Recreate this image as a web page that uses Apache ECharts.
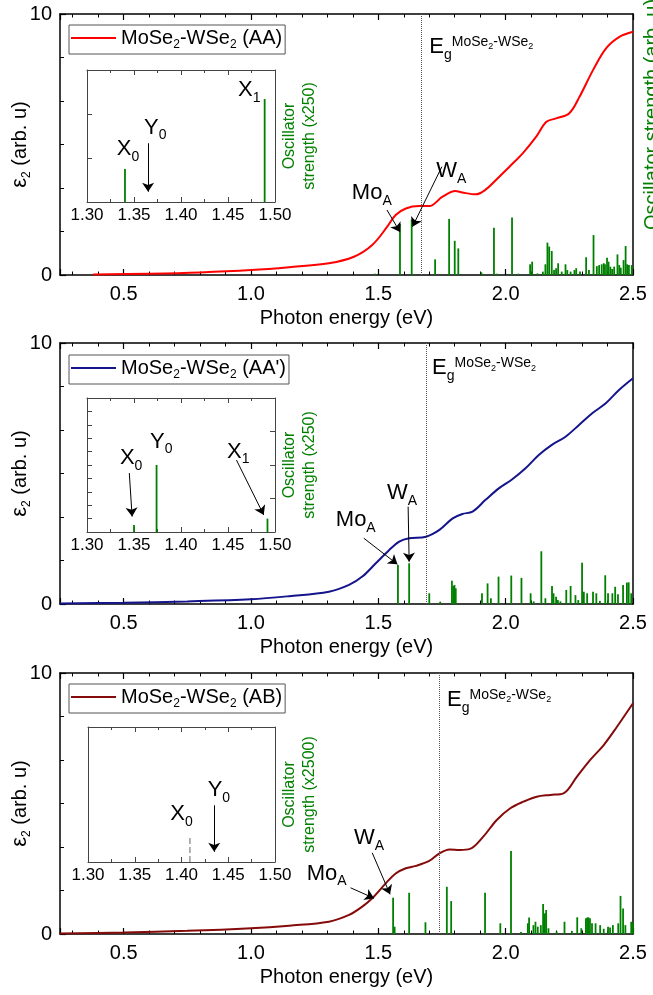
<!DOCTYPE html>
<html>
<head>
<meta charset="utf-8">
<script src="https://cdn.jsdelivr.net/npm/echarts@6/dist/echarts.min.js"></script>
<style>
html, body { margin: 0; padding: 0; background: #fff; }
#chart { width: 653px; height: 995px; }
</style>
</head>
<body>
<div id="chart"></div>
<script>
var FONT = 'Liberation Sans, Arial, Helvetica, sans-serif';
var GREEN = '#008000';

// ---- panel 1 : MoSe2-WSe2 (AA)
var energyAA = [0.38, 0.6, 0.8, 1.0, 1.15, 1.306, 1.404, 1.476, 1.535, 1.568, 1.608, 1.66, 1.70, 1.752, 1.802, 1.83, 1.883, 1.92, 1.962, 2.015, 2.067, 2.12, 2.16, 2.198, 2.25, 2.29, 2.343, 2.395, 2.448, 2.5];
var eps2AA = [0.02, 0.05, 0.1, 0.19, 0.3, 0.45, 0.70, 1.15, 1.85, 2.30, 2.55, 2.64, 2.64, 3.0, 3.22, 3.16, 3.09, 3.26, 3.64, 4.15, 4.66, 5.3, 5.87, 6.0, 6.2, 6.83, 7.85, 8.69, 9.13, 9.32];
var oscAA = [[1.486, 0.05], [1.585, 1.95], [1.631, 2.13], [1.723, 0.6], [1.778, 2.15], [1.80, 1.31], [1.814, 1.02], [1.905, 0.1],
    [1.954, 1.81], [1.965, 0.05], [2.025, 2.2], [2.05, 0.05], [2.096, 0.41], [2.104, 0.51], [2.125, 0.06], [2.146, 0.13],
    [2.156, 0.41], [2.164, 1.24], [2.171, 1.09], [2.181, 0.92], [2.19, 0.19], [2.198, 0.26], [2.206, 0.45], [2.22, 0.13],
    [2.235, 0.41], [2.242, 0.19], [2.255, 0.13], [2.27, 0.19], [2.277, 0.26], [2.292, 0.13], [2.316, 0.68], [2.327, 0.19],
    [2.345, 1.53], [2.358, 0.34], [2.367, 0.38], [2.377, 0.41], [2.385, 0.45], [2.39, 0.41], [2.398, 0.66], [2.404, 0.51],
    [2.411, 0.32], [2.418, 0.23], [2.426, 0.32], [2.439, 0.79], [2.446, 0.38], [2.452, 0.28], [2.463, 0.57], [2.471, 1.11],
    [2.477, 0.41], [2.484, 0.38], [2.495, 0.38]];
var insetOscAA = [[1.3404, 0.25], [1.489, 0.78]];
var gapAA = 1.667;

// ---- panel 2 : MoSe2-WSe2 (AA')
var energyAAp = [0.25, 0.5, 0.75, 1.0, 1.15, 1.306, 1.385, 1.437, 1.49, 1.543, 1.582, 1.621, 1.687, 1.74, 1.792, 1.83, 1.87, 1.92, 1.973, 2.026, 2.078, 2.13, 2.18, 2.235, 2.288, 2.34, 2.393, 2.445, 2.5];
var eps2AAp = [0.02, 0.05, 0.1, 0.18, 0.3, 0.47, 0.73, 1.05, 1.56, 2.07, 2.39, 2.52, 2.58, 2.84, 3.28, 3.45, 3.54, 3.98, 4.43, 4.78, 5.2, 5.71, 6.09, 6.41, 6.86, 7.31, 7.69, 8.2, 8.65];
var oscAAp = [[1.577, 1.49], [1.621, 1.56], [1.70, 0.41], [1.743, 0.09], [1.789, 0.89], [1.794, 0.69], [1.799, 0.73], [1.804, 0.6],
    [1.907, 0.41], [1.929, 0.79], [1.942, 0.22], [1.972, 1.05], [2.022, 1.09], [2.062, 1.0], [2.098, 0.41], [2.11, 0.1],
    [2.14, 2.02], [2.156, 0.22], [2.182, 0.69], [2.188, 0.41], [2.198, 0.28], [2.205, 0.15], [2.215, 0.1], [2.238, 0.54],
    [2.255, 0.69], [2.274, 0.34], [2.285, 0.15], [2.30, 1.58], [2.307, 0.47], [2.32, 0.41], [2.343, 0.47], [2.356, 0.41],
    [2.37, 0.12], [2.391, 1.10], [2.402, 0.41], [2.419, 0.41], [2.43, 0.66], [2.441, 0.37], [2.461, 0.73], [2.476, 0.82],
    [2.483, 0.83], [2.493, 0.41]];
var insetOscAAp = [[1.350, 0.052], [1.374, 0.5], [1.492, 0.10]];
var gapAAp = 1.689;

// ---- panel 3 : MoSe2-WSe2 (AB)
var energyAB = [0.25, 0.5, 0.75, 1.0, 1.15, 1.306, 1.385, 1.437, 1.476, 1.529, 1.568, 1.608, 1.647, 1.70, 1.74, 1.78, 1.82, 1.86, 1.912, 1.965, 2.017, 2.07, 2.122, 2.175, 2.227, 2.28, 2.332, 2.385, 2.437, 2.5];
var eps2AB = [0.02, 0.06, 0.12, 0.22, 0.32, 0.47, 0.73, 1.05, 1.37, 1.94, 2.32, 2.52, 2.61, 2.80, 3.09, 3.24, 3.22, 3.26, 3.73, 4.37, 4.81, 5.07, 5.26, 5.33, 5.39, 6.03, 6.67, 7.24, 7.94, 8.84];
var oscAB = [[1.558, 1.39], [1.564, 0.28], [1.621, 1.58], [1.685, 0.45], [1.769, 1.81], [1.786, 1.26], [1.919, 1.58], [1.979, 0.41],
    [2.021, 3.18], [2.06, 0.08], [2.087, 0.41], [2.092, 0.63], [2.109, 0.34], [2.117, 0.47], [2.126, 0.28], [2.138, 0.34],
    [2.147, 1.15], [2.154, 0.79], [2.159, 0.92], [2.168, 0.22], [2.2, 0.1], [2.231, 0.47], [2.26, 0.12], [2.281, 0.64],
    [2.297, 0.22], [2.315, 0.6], [2.32, 0.63], [2.325, 0.64], [2.331, 0.6], [2.339, 0.41], [2.353, 0.41], [2.371, 0.34],
    [2.385, 0.2], [2.402, 0.28], [2.41, 0.25], [2.421, 0.34], [2.442, 0.41], [2.451, 1.46], [2.461, 0.98], [2.47, 0.34],
    [2.493, 0.47], [2.5, 0.41]];
var insetDashAB = [[1.409, 0], [1.409, 0.18]];
var gapAB = 1.739;

function zip(xs, ys) {
    return xs.map(function (x, i) { return [x, ys[i]]; });
}

var EG = '{e|E}{g|g}{p|MoSe}{q|2}{p|-WSe}{q|2}';

var panels = [
    {
        name: 'AA', color: '#ff0000', top: 14, legendTop: 25,
        inset: {left: 87, top: 70, width: 188, height: 132},
        curve: zip(energyAA, eps2AA), osc: oscAA, insetOsc: insetOscAA, gap: gapAA,
        legend: '{t|MoSe}{s|2}{t|-WSe}{s|2}{t| (AA)}',
        rightName: 'Oscillator strength (arb. u)',
        insetName: 'Oscillator\nstrength (x250)',
        insetLeftTicks: {interval: 1, minor: 3}, insetRightTicks: null,
        labels: [{at: [1.70, 8.74], text: EG}, {at: [1.396, 3.14], text: '{m|Mo}{s|A}'}, {at: [1.727, 3.98], text: '{m|W}{s|A}'}],
        arrows: [[[1.534, 2.49], [1.585, 1.65]], [[1.7496, 4.15], [1.634, 1.85]]],
        insetLabels: [{at: [1.3316, 0.40], text: '{m|X}{s|0}'}, {at: [1.3606, 0.564], text: '{m|Y}{s|0}'}, {at: [1.4606, 0.85], text: '{m|X}{s|1}'}],
        insetArrows: [[[1.365, 0.445], [1.365, 0.078]]]
    },
    {
        name: "AA'", color: '#14148c', top: 343, legendTop: 355,
        inset: {left: 87, top: 398, width: 188, height: 134},
        curve: zip(energyAAp, eps2AAp), osc: oscAAp, insetOsc: insetOscAAp, gap: gapAAp,
        legend: "{t|MoSe}{s|2}{t|-WSe}{s|2}{t| (AA')}",
        rightName: '',
        insetName: 'Oscillator\nstrength (x250)',
        insetLeftTicks: {interval: 0.1, minor: 0}, insetRightTicks: {interval: 0.25},
        labels: [{at: [1.711, 9.04], text: EG}, {at: [1.333, 3.22], text: '{m|Mo}{s|A}'}, {at: [1.534, 4.25], text: '{m|W}{s|A}'}],
        arrows: [[[1.443, 2.52], [1.575, 1.52]], [[1.617, 3.73], [1.621, 1.62]]],
        insetLabels: [{at: [1.335, 0.55], text: '{m|X}{s|0}'}, {at: [1.367, 0.675], text: '{m|Y}{s|0}'}, {at: [1.449, 0.60], text: '{m|X}{s|1}'}],
        insetArrows: [[[1.345, 0.44], [1.348, 0.115]], [[1.459, 0.537], [1.488, 0.127]]]
    },
    {
        name: 'AB', color: '#850a0a', top: 673, legendTop: 684,
        inset: {left: 88, top: 727, width: 187, height: 135},
        curve: zip(energyAB, eps2AB), osc: oscAB, insetOsc: [], insetDash: insetDashAB, gap: gapAB,
        legend: '{t|MoSe}{s|2}{t|-WSe}{s|2}{t| (AB)}',
        rightName: '',
        insetName: 'Oscillator\nstrength (x2500)',
        insetLeftTicks: null, insetRightTicks: null,
        labels: [{at: [1.770, 8.97], text: EG}, {at: [1.219, 2.32], text: '{m|Mo}{s|A}'}, {at: [1.404, 3.68], text: '{m|W}{s|A}'}],
        arrows: [[[1.391, 1.77], [1.483, 1.37]], [[1.476, 3.11], [1.546, 1.52]]],
        insetLabels: [{at: [1.388, 0.356], text: '{m|X}{s|0}'}, {at: [1.428, 0.533], text: '{m|Y}{s|0}'}],
        insetArrows: [[[1.435, 0.42], [1.435, 0.076]]]
    }
];

var labelRich = {
    m: {fontSize: 22, lineHeight: 30, color: '#000', fontFamily: FONT},
    s: {fontSize: 14, lineHeight: 10, verticalAlign: 'bottom', color: '#000', fontFamily: FONT},
    e: {fontSize: 22, lineHeight: 30, color: '#000', fontFamily: FONT},
    g: {fontSize: 14, lineHeight: 10, verticalAlign: 'bottom', color: '#000', fontFamily: FONT},
    p: {fontSize: 14, padding: [0, 0, 9, 0], color: '#000', fontFamily: FONT},
    q: {fontSize: 9, color: '#000', fontFamily: FONT}
};

function markLabels(list) {
    return {
        silent: true,
        animation: false,
        symbol: 'circle',
        symbolSize: 0,
        itemStyle: {color: 'rgba(0,0,0,0)'},
        label: {show: true, position: 'right', distance: 0, rich: labelRich},
        data: list.map(function (l) {
            return {coord: l.at, value: 0, label: {formatter: l.text}};
        })
    };
}

function markArrows(list) {
    return {
        silent: true,
        animation: false,
        symbol: ['none', 'arrow'],
        symbolSize: 9,
        lineStyle: {color: '#000', width: 1, type: 'solid'},
        label: {show: false},
        data: list.map(function (a) { return [{coord: a[0]}, {coord: a[1]}]; })
    };
}

function mainX(g, pos) {
    return {
        type: 'value', gridIndex: g, position: pos, min: 0.25, max: 2.5, splitNumber: 5,
        axisLine: {show: true, onZero: false, lineStyle: {color: '#000', width: 1.5}},
        axisTick: {show: true, inside: true, length: 6, lineStyle: {color: '#000', width: 1.2}},
        minorTick: {show: true, splitNumber: 5, length: 3.5, lineStyle: {color: '#000', width: 1}},
        splitLine: {show: false},
        axisLabel: {
            show: pos === 'bottom', fontSize: 20, color: '#000', margin: 9, fontFamily: FONT,
            formatter: function (v) {
                return Math.abs(v * 2 - Math.round(v * 2)) < 1e-6 ? v.toFixed(1) : '';
            }
        },
        name: pos === 'bottom' ? 'Photon energy (eV)' : '',
        nameLocation: 'middle', nameGap: 33, nameMoveOverlap: false,
        nameTextStyle: {fontSize: 20, color: '#000', fontFamily: FONT}
    };
}

function mainYLeft(g) {
    return {
        type: 'value', gridIndex: g, position: 'left', min: 0, max: 10, interval: 10,
        axisLine: {show: true, onZero: false, lineStyle: {color: '#000', width: 1.5}},
        axisTick: {show: true, inside: true, length: 6, lineStyle: {color: '#000', width: 1.2}},
        minorTick: {show: true, splitNumber: 6, length: 4, lineStyle: {color: '#000', width: 1}},
        splitLine: {show: false},
        axisLabel: {fontSize: 20, color: '#000', margin: 8, fontFamily: FONT},
        name: '{e|ε}{s|2}{t| (arb. u)}', nameLocation: 'middle', nameGap: 27, nameRotate: 90,
        nameMoveOverlap: false,
        nameTextStyle: {
            rich: {
                e: {fontSize: 22, lineHeight: 26, color: '#000', fontFamily: FONT},
                s: {fontSize: 12, lineHeight: 12, verticalAlign: 'bottom', color: '#000', fontFamily: FONT},
                t: {fontSize: 20, lineHeight: 26, color: '#000', fontFamily: FONT}
            }
        }
    };
}

function mainYRight(g, name) {
    return {
        type: 'value', gridIndex: g, position: 'right', min: 0, max: 10,
        axisLine: {show: true, onZero: false, lineStyle: {color: '#000', width: 1.5}},
        axisTick: {show: false}, axisLabel: {show: false}, splitLine: {show: false},
        name: name, nameLocation: 'middle', nameGap: 9, nameRotate: 90, nameMoveOverlap: false,
        nameTextStyle: {fontSize: 20, color: GREEN, fontFamily: FONT, padding: [0, 0, 0, 60]}
    };
}

function insetX(g, pos) {
    return {
        type: 'value', gridIndex: g, position: pos, min: 1.3, max: 1.5, interval: 0.05,
        axisLine: {show: true, onZero: false, lineStyle: {color: '#444', width: 1}},
        axisTick: {show: true, inside: true, length: 5, lineStyle: {color: '#444', width: 1}},
        minorTick: {show: true, splitNumber: 2, length: 3, lineStyle: {color: '#444', width: 1}},
        splitLine: {show: false},
        axisLabel: {
            show: pos === 'bottom', fontSize: 17, color: '#000', margin: 5, fontFamily: FONT,
            formatter: function (v) { return v.toFixed(2); }
        }
    };
}

function insetY(g, pos, ticks, name) {
    var ax = {
        type: 'value', gridIndex: g, position: pos, min: 0, max: 1,
        axisLine: {show: true, onZero: false, lineStyle: {color: '#444', width: 1}},
        axisTick: {show: !!ticks, inside: true, length: 5, lineStyle: {color: '#444', width: 1}},
        minorTick: {show: !!(ticks && ticks.minor), splitNumber: ticks && ticks.minor ? ticks.minor : 5, length: 5, lineStyle: {color: '#444', width: 1}},
        splitLine: {show: false},
        axisLabel: {show: false}
    };
    if (ticks) ax.interval = ticks.interval;
    if (name) {
        ax.name = name;
        ax.nameLocation = 'middle';
        ax.nameRotate = 90;
        ax.nameGap = 5;
        ax.nameMoveOverlap = false;
        ax.nameTextStyle = {fontSize: 16, lineHeight: 20, color: GREEN, fontFamily: FONT, align: 'center'};
    }
    return ax;
}

var option = {
    animation: false,
    backgroundColor: '#fff',
    textStyle: {fontFamily: FONT},
    grid: [], xAxis: [], yAxis: [], legend: [], series: []
};

panels.forEach(function (p) {
    var g = option.grid.length;
    option.grid.push({left: 60, right: 20, top: p.top, height: 261, containLabel: false, outerBoundsMode: 'none'});
    option.grid.push({left: p.inset.left, top: p.inset.top, width: p.inset.width, height: p.inset.height,
        show: true, backgroundColor: '#fff', borderWidth: 0, containLabel: false, outerBoundsMode: 'none'});

    var xa = option.xAxis.length;
    option.xAxis.push(mainX(g, 'bottom'), mainX(g, 'top'), insetX(g + 1, 'bottom'), insetX(g + 1, 'top'));
    var ya = option.yAxis.length;
    option.yAxis.push(mainYLeft(g), mainYRight(g, p.rightName),
        insetY(g + 1, 'left', p.insetLeftTicks, ''), insetY(g + 1, 'right', p.insetRightTicks, p.insetName));

    option.legend.push({
        data: [{name: p.name, icon: 'rect'}], left: 69, top: p.legendTop, orient: 'horizontal',
        itemWidth: 45, itemHeight: 2, itemGap: 0, padding: [3, 3, 3, 2],
        borderColor: '#555', borderWidth: 1, backgroundColor: '#fff',
        selectedMode: false,
        formatter: function () { return p.legend; },
        textStyle: {
            rich: {
                t: {fontSize: 20, lineHeight: 26, color: '#000', fontFamily: FONT},
                s: {fontSize: 12, lineHeight: 12, verticalAlign: 'bottom', color: '#000', fontFamily: FONT}
            }
        }
    });

    // oscillator strengths (green sticks) + band-gap marker
    option.series.push({
        type: 'bar', xAxisIndex: xa, yAxisIndex: ya, data: p.osc, barWidth: 1.8,
        itemStyle: {color: GREEN}, z: 2, silent: true,
        markLine: {
            silent: true, animation: false, symbol: 'none',
            lineStyle: {color: '#555', type: 'dotted', width: 1},
            label: {show: false},
            data: [{xAxis: p.gap}]
        }
    });

    // epsilon_2 curve
    option.series.push({
        type: 'line', name: p.name, xAxisIndex: xa, yAxisIndex: ya, data: p.curve,
        smooth: 0.35, symbol: 'none', z: 3, silent: true,
        lineStyle: {color: p.color, width: 2}, itemStyle: {color: p.color},
        markLine: markArrows(p.arrows),
        markPoint: markLabels(p.labels)
    });

    // inset
    option.series.push({
        type: 'bar', xAxisIndex: xa + 2, yAxisIndex: ya + 2, data: p.insetOsc, barWidth: 1.8,
        itemStyle: {color: GREEN}, z: 4, silent: true,
        markLine: markArrows(p.insetArrows),
        markPoint: markLabels(p.insetLabels)
    });
    if (p.insetDash) {
        option.series.push({
            type: 'line', xAxisIndex: xa + 2, yAxisIndex: ya + 2, data: p.insetDash,
            symbol: 'none', z: 4, silent: true,
            lineStyle: {color: '#999', width: 1.5, type: 'dashed'}
        });
    }
});

var chart = echarts.init(document.getElementById('chart'), null, {renderer: 'canvas'});
chart.setOption(option);
</script>
</body>
</html>
